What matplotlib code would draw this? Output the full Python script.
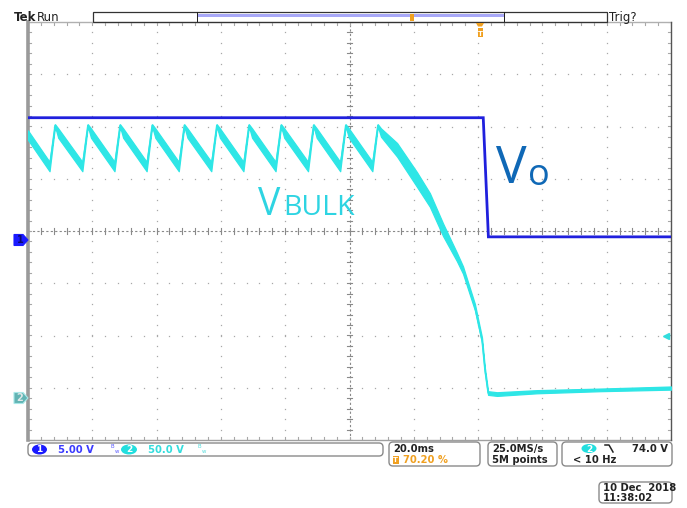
import matplotlib
matplotlib.use("Agg")
import matplotlib.pyplot as plt
import matplotlib.transforms as mtransforms
from matplotlib.patches import Rectangle, FancyBboxPatch, Ellipse, Polygon
import numpy as np

# ---------------- data ----------------
# Channel 1 (Vo), volts vs time (ms)
vo_t = [0.0, 141.6, 143.2, 200.0]
vo_v = [11.7, 11.7, 0.3, 0.3]

# Channel 2 (V_BULK): noisy band, upper and lower envelope (volts) vs time (ms)
bulk_t = [0.0, 6.7,
          8.4, 9.4, 16.9,
          18.6, 19.6, 26.9,
          28.6, 29.6, 36.9,
          38.6, 39.6, 46.9,
          48.6, 49.6, 57.0,
          58.7, 59.7, 67.0,
          68.7, 69.7, 77.0,
          78.7, 79.7, 87.1,
          88.8, 89.8, 97.1,
          98.8, 99.8, 107.1,
          108.8, 109.8, 114.8, 121.0, 125.0, 129.1, 133.4, 135.3, 139.0,
          141.2, 142.1, 143.1, 145.9, 158.3, 177.9, 200.0]
bulk_hi = [256, 226,
           262, 258, 226,
           262, 258, 226,
           262, 258, 226,
           262, 258, 226,
           262, 258, 226,
           262, 258, 226,
           262, 258, 226,
           262, 258, 226,
           262, 258, 226,
           262, 258, 226,
           262, 258, 244, 216, 196, 167, 139, 126, 90,
           58, 29, 6.5, 5.5, 7.5, 9.0, 11.0]
bulk_lo = [247, 217,
           260, 249, 217,
           260, 249, 217,
           260, 249, 217,
           260, 249, 217,
           260, 249, 217,
           260, 249, 217,
           260, 249, 217,
           260, 249, 217,
           260, 249, 217,
           260, 249, 217,
           260, 250, 231, 202, 183, 155, 131, 119, 84,
           53, 25, 3.0, 2.0, 4.5, 6.5, 8.0]

trig_marker_v = 59.0          # ch2 trigger level arrow position (V)

ch1_scale, ch1_offset_div = 5.0, -0.172   # V/div, ground marker (div)
ch2_scale, ch2_offset_div = 50.0, -3.196

# ---------------- figure ----------------
W, H = 687, 508
fig = plt.figure(figsize=(W / 100, H / 100), dpi=100)
fig.patch.set_facecolor("white")
L, R, T, B = 28, 671, 22, 440
rect = [L / W, 1 - B / H, (R - L) / W, (B - T) / H]

ax = fig.add_axes(rect)
ax.set_xlim(-5, 5)
ax.set_ylim(-4, 4)
ax.axis("off")

grid_c = "#a8a8a8"
# dotted grid
for xv in [-4, -3, -2, -1, 1, 2, 3, 4]:
    ys = np.arange(-4, 4.001, 0.2)
    ax.plot([xv] * len(ys), ys, ls="none", marker="s", ms=0.9, mew=0, color=grid_c)
for yv in [-3, -2, -1, 1, 2, 3]:
    xs = np.arange(-5, 5.001, 0.2)
    ax.plot(xs, [yv] * len(xs), ls="none", marker="s", ms=0.9, mew=0, color=grid_c)

# center crosshair
cc = "#8a8a8a"
ax.plot([-5, 5], [0, 0], color=cc, lw=0.8, ls=(0, (2, 2)))
ax.plot([0, 0], [-4, 4], color=cc, lw=0.8, ls=(0, (2, 2)))
for xv in np.arange(-5, 5.001, 0.2):
    ax.plot([xv, xv], [-0.05, 0.05], color=cc, lw=0.8)
for yv in np.arange(-4, 4.001, 0.2):
    ax.plot([-0.04, 0.04], [yv, yv], color=cc, lw=0.8)

# border ticks
for xv in np.arange(-5, 5.001, 0.2):
    ax.plot([xv, xv], [4, 3.94], color=grid_c, lw=0.8)
    ax.plot([xv, xv], [-4, -3.94], color=grid_c, lw=0.8)
for yv in np.arange(-4, 4.001, 0.2):
    ax.plot([-5, -4.955], [yv, yv], color=grid_c, lw=0.8)
    ax.plot([5, 4.955], [yv, yv], color=grid_c, lw=0.8)

# border
ax.plot([-5, 5], [4, 4], color="#b0b0b0", lw=1.0, clip_on=False)
ax.plot([-5, 5], [-4, -4], color="#a0a0a0", lw=1.0, clip_on=False)
ax.plot([-5, -5], [-4, 4], color="#9a9a9a", lw=2.6, clip_on=False)
ax.plot([5, 5], [-4, 4], color="#555555", lw=1.0, clip_on=False)

# channel axes
a1 = fig.add_axes(rect, frameon=False)
a1.set_xlim(0, 200)
a1.set_ylim((-4 - ch1_offset_div) * ch1_scale, (4 - ch1_offset_div) * ch1_scale)
a1.axis("off")
a2 = fig.add_axes(rect, frameon=False)
a2.set_xlim(0, 200)
a2.set_ylim((-4 - ch2_offset_div) * ch2_scale, (4 - ch2_offset_div) * ch2_scale)
a2.axis("off")

cyan = "#2ee6e6"
blue = "#2020dd"
a2.fill_between(bulk_t, bulk_lo, bulk_hi, color=cyan, lw=0.9, edgecolor=cyan, zorder=3)
mid = [(h + l) / 2 for h, l in zip(bulk_hi, bulk_lo)]
a2.plot(bulk_t, mid, color=cyan, lw=1.0, zorder=3)
a1.plot(vo_t, vo_v, color=blue, lw=2.0, zorder=4, solid_joinstyle="miter")

# trigger level arrow on right
bt2 = mtransforms.blended_transform_factory(a2.transAxes, a2.transData)
a2.plot([0.993], [trig_marker_v], transform=bt2, marker="<", ms=4, color="#33dddd",
        ls="none", clip_on=False)

I = mtransforms.IdentityTransform()


def addp(p):
    p.set_transform(I)
    p.set_clip_on(False)
    fig.add_artist(p)


def ftxt(x, y, s, **kw):
    kw.setdefault("va", "baseline")
    fig.text(x / W, 1 - y / H, s, **kw)


# ground markers (pentagon arrows at the channel zero level)
def ground_marker(axc, label, fc, ec, tc):
    yd = axc.transData.transform((0, 0))[1]
    pts = [(14, yd + 5.5), (23, yd + 5.5), (28, yd), (23, yd - 5.5), (14, yd - 5.5)]
    p = Polygon(pts, closed=True, fc=fc, ec=ec, lw=0.8)
    p.set_zorder(5)
    addp(p)
    t = fig.text(20 / W, yd / H, label, ha="center", va="center", fontsize=7,
                 color=tc, fontweight="bold")
    t.set_zorder(6)


ground_marker(a1, "1", "#1a1aff", "#1a1aff", "#0a0a70")
ground_marker(a2, "2", "#62b4b4", "#a8e8e8", "#dfe8e8")

# labels
a2.text((258 - L) / (R - L), 1 - (215 - T) / (B - T), "V", transform=a2.transAxes,
        fontsize=27, family="Open Sans", color="#2ed4e2", va="baseline", ha="left")
a2.text((283 - L) / (R - L), 1 - (215 - T) / (B - T), "BULK", transform=a2.transAxes,
        fontsize=20.5, family="Open Sans", color="#2ed4e2", va="baseline", ha="left")
a1.text((496 - L) / (R - L), 1 - (183 - T) / (B - T), "V", transform=a1.transAxes,
        fontsize=37, family="Open Sans", color="#0f68b6", va="baseline", ha="left")
a1.text((528 - L) / (R - L), 1 - (185 - T) / (B - T), "o", transform=a1.transAxes,
        fontsize=26, family="Open Sans", color="#0f68b6", va="baseline", ha="left")

# ---------------- header / footer (pixel coordinates) ----------------
ftxt(14, 21, "Tek", fontsize=8.5, fontweight="bold", color="#222222")
ftxt(37, 21, "Run", fontsize=8.5, color="#222222")
ftxt(609, 21, "Trig?", fontsize=8.5, color="#222222")

addp(Rectangle((93, H - 22.3), 514, 10, fill=False, ec="#333333", lw=0.9))
addp(Rectangle((197, H - 17.3), 307, 3, fc="#a8a8f8", ec="none"))
addp(Rectangle((196.5, H - 22.3), 1.2, 10, fc="#222222", ec="none"))
addp(Rectangle((503.5, H - 22.3), 1.2, 10, fc="#222222", ec="none"))
addp(Rectangle((410, H - 21), 4, 7, fc="#f0a020", ec="none"))
addp(Polygon([(476, H - 23), (484, H - 23), (482, H - 26.5), (478, H - 26.5)], closed=True,
             fc="#f0a020", ec="none"))
addp(Rectangle((477.5, H - 36.5), 5, 9, fc="#f0a020", ec="none"))
ftxt(480, 35.5, "T", fontsize=5, color="white", ha="center", fontweight="bold")


# footer boxes
def rbox(x0, y0, x1, y1):
    addp(FancyBboxPatch((x0, H - y1), x1 - x0, y1 - y0,
                        boxstyle="round,pad=0,rounding_size=4", fc="white",
                        ec="#8a8a8a", lw=1.0))


rbox(28, 443, 383, 456)
rbox(389, 442, 480, 466)
rbox(488, 442, 557, 466)
rbox(562, 442, 672, 466)
rbox(599, 482, 672, 503)

fs = 7.2
addp(Ellipse((39.5, H - 449.5), 15, 10, fc="#1a1aff", ec="none"))
ftxt(39.5, 452.5, "1", fontsize=6.5, color="white", ha="center", fontweight="bold")
ftxt(58, 453, "5.00 V", fontsize=fs, color="#3a3aff", fontweight="bold")
ftxt(110, 452, r"$^{\mathrm{B}}{}_{\mathrm{w}}$", fontsize=5.5, color="#5a5aff")
addp(Ellipse((129, H - 449.5), 16, 10, fc="#22dede", ec="none"))
ftxt(129, 452.5, "2", fontsize=6.5, color="white", ha="center", fontweight="bold")
ftxt(148, 453, "50.0 V", fontsize=fs, color="#33dddd", fontweight="bold")
ftxt(197, 452, r"$^{\mathrm{B}}{}_{\mathrm{w}}$", fontsize=5.5, color="#55dddd")

ftxt(393, 452, "20.0ms", fontsize=fs, color="#222222", fontweight="bold")
addp(Rectangle((392.5, H - 463.5), 6, 8, fc="#f0a020", ec="none"))
ftxt(395.5, 462.5, "T", fontsize=5, color="white", ha="center", fontweight="bold")
ftxt(403, 463, "70.20 %", fontsize=fs, color="#f0a020", fontweight="bold")

ftxt(492, 452, "25.0MS/s", fontsize=fs, color="#222222", fontweight="bold")
ftxt(492, 463, "5M points", fontsize=fs, color="#222222", fontweight="bold")

addp(Ellipse((589, H - 448.5), 15, 9, fc="#22dede", ec="none"))
ftxt(589, 451.5, "2", fontsize=6.5, color="white", ha="center", fontweight="bold")
fig.add_artist(plt.Line2D([605 / W, 609 / W, 613 / W],
                          [1 - 445 / H, 1 - 445 / H, 1 - 452 / H],
                          transform=fig.transFigure, color="#222222", lw=1.1))
ftxt(668, 452, "74.0 V", fontsize=fs, color="#222222", fontweight="bold", ha="right")
ftxt(573, 463, "< 10 Hz", fontsize=fs, color="#222222", fontweight="bold")

ftxt(603, 491, "10 Dec  2018", fontsize=fs, color="#222222", fontweight="bold")
ftxt(603, 501, "11:38:02", fontsize=fs, color="#222222", fontweight="bold")

fig.savefig("out.png", dpi=100, facecolor="white")
